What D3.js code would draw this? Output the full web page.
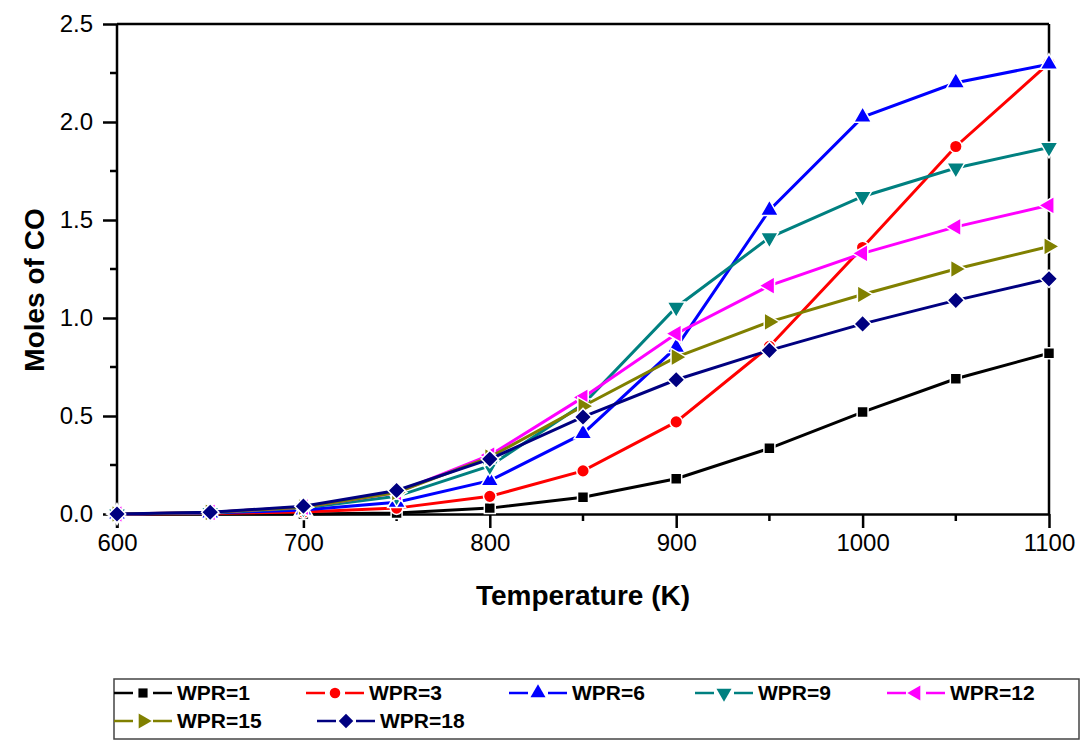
<!DOCTYPE html>
<html>
<head>
<meta charset="utf-8">
<script src="https://cdn.jsdelivr.net/npm/d3@7"></script>
<style>
  body { margin: 0; background: #fff; }
  svg { font-family: "Liberation Sans", Arial, sans-serif; }
</style>
</head>
<body>
<div id="chart"></div>
<script>
// temperatures (K)
const temps = [600, 650, 700, 750, 800, 850, 900, 950, 1000, 1050, 1100];

// moles of CO
const wpr1  = [0, 0, 0, 0.005, 0.03, 0.085, 0.18, 0.335, 0.52, 0.69, 0.82];
const wpr3  = [0, 0.003, 0.01, 0.03, 0.09, 0.22, 0.47, 0.855, 1.36, 1.875, 2.30];
const wpr6  = [0, 0.005, 0.02, 0.06, 0.17, 0.41, 0.85, 1.55, 2.025, 2.20, 2.295];
const wpr9  = [0, 0.007, 0.03, 0.09, 0.245, 0.56, 1.055, 1.41, 1.62, 1.765, 1.87];
const wpr12 = [0, 0.008, 0.035, 0.11, 0.30, 0.595, 0.92, 1.165, 1.33, 1.465, 1.575];
const wpr15 = [0, 0.008, 0.035, 0.11, 0.29, 0.55, 0.80, 0.98, 1.12, 1.25, 1.365];
const wpr18 = [0, 0.009, 0.04, 0.12, 0.28, 0.495, 0.685, 0.835, 0.97, 1.09, 1.20];

const seriesNames = ["WPR=1", "WPR=3", "WPR=6", "WPR=9", "WPR=12", "WPR=15", "WPR=18"];
const seriesValues = [wpr1, wpr3, wpr6, wpr9, wpr12, wpr15, wpr18];
const colors = ["#000000", "#ff0000", "#0000ff", "#008080", "#ff00ff", "#808000", "#000080"];
const shapes = ["square", "circle", "up", "down", "left", "right", "diamond"];

const xTicks = [600, 700, 800, 900, 1000, 1100];
const yTicks = [0, 0.5, 1.0, 1.5, 2.0, 2.5];

const svgWidth = 1086, svgHeight = 740;
const margin = {left: 117, top: 24, right: 37, bottom: 226};
const width = svgWidth - margin.left - margin.right;   // 932
const height = svgHeight - margin.top - margin.bottom; // 490

const svg = d3.select("#chart").append("svg")
    .attr("width", svgWidth)
    .attr("height", svgHeight);

const g = svg.append("g")
    .attr("transform", "translate(" + margin.left + "," + margin.top + ")");

const xscale = d3.scaleLinear().domain([600, 1100]).range([0, width]);
const yscale = d3.scaleLinear().domain([0, 2.5]).range([height, 0]);

// frame top and right
g.append("line").attr("x1", 0).attr("x2", width).attr("y1", 0).attr("y2", 0)
    .attr("stroke", "#000").attr("stroke-width", 2.5);
g.append("line").attr("x1", width).attr("x2", width).attr("y1", 0).attr("y2", height)
    .attr("stroke", "#000").attr("stroke-width", 2.5);

// minor ticks
const xMinor = d3.range(650, 1100, 100);
const yMinor = d3.range(0.25, 2.5, 0.5);

g.selectAll(".xminor").data(xMinor).enter().append("line")
    .attr("x1", d => xscale(d)).attr("x2", d => xscale(d))
    .attr("y1", height).attr("y2", height + 7)
    .attr("stroke", "#000").attr("stroke-width", 2.5);
g.selectAll(".yminor").data(yMinor).enter().append("line")
    .attr("x1", -7).attr("x2", 0)
    .attr("y1", d => yscale(d)).attr("y2", d => yscale(d))
    .attr("stroke", "#000").attr("stroke-width", 2.5);

// axes
const xAxis = g.append("g")
    .attr("transform", "translate(0," + height + ")")
    .call(d3.axisBottom(xscale).tickValues(xTicks).tickSize(14).tickPadding(6)
        .tickFormat(d3.format("d")).tickSizeOuter(0));
const yAxis = g.append("g")
    .call(d3.axisLeft(yscale).tickValues(yTicks).tickSize(14).tickPadding(10)
        .tickFormat(d3.format(".1f")).tickSizeOuter(0));

[xAxis, yAxis].forEach(a => {
    a.select(".domain").attr("stroke", "#000").attr("stroke-width", 2.5);
    a.selectAll(".tick line").attr("stroke", "#000").attr("stroke-width", 2.5);
    a.selectAll(".tick text").attr("fill", "#000")
        .style("font-size", "24px")
        .style("font-family", "'Liberation Sans', Arial, sans-serif");
});
// y axis domain should extend down to cover tick at 0
yAxis.select(".domain").attr("d", "M0," + (height + 14) + "V0");

// axis titles
svg.append("text")
    .attr("x", 583).attr("y", 605)
    .attr("text-anchor", "middle")
    .style("font-size", "28px").style("font-weight", "bold")
    .text("Temperature (K)");

svg.append("text")
    .attr("transform", "translate(44,290) rotate(-90)")
    .attr("text-anchor", "middle")
    .style("font-size", "28px").style("font-weight", "bold")
    .text("Moles of CO");

function symbolPath(shape, size) {
    let type = d3.symbolTriangle;
    if (shape === "square" || shape === "diamond") type = d3.symbolSquare;
    if (shape === "circle") type = d3.symbolCircle;
    return d3.symbol().type(type).size(size)();
}
function symbolRotate(shape) {
    if (shape === "down") return 180;
    if (shape === "left") return -90;
    if (shape === "right") return 90;
    if (shape === "diamond") return 45;
    return 0;
}
function symbolSize(shape) {
    if (shape === "square") return 120;
    if (shape === "circle") return 125;
    if (shape === "diamond") return 150;
    return 140;
}

const line = d3.line()
    .x(d => xscale(d.x))
    .y(d => yscale(d.y));

seriesValues.forEach((vals, i) => {
    const pts = temps.map((t, j) => ({x: t, y: vals[j]}));
    g.append("path")
        .datum(pts)
        .attr("d", line)
        .attr("fill", "none")
        .attr("stroke", colors[i])
        .attr("stroke-width", 3);

    g.selectAll(".m" + i).data(pts).enter().append("path")
        .attr("d", symbolPath(shapes[i], symbolSize(shapes[i])))
        .attr("transform", d => "translate(" + xscale(d.x) + "," + yscale(d.y) + ") rotate(" + symbolRotate(shapes[i]) + ")")
        .attr("fill", colors[i])
        .attr("stroke", "#fff")
        .attr("stroke-width", 1.5);
});

// legend
svg.append("rect")
    .attr("x", 114).attr("y", 679).attr("width", 965).attr("height", 60)
    .attr("fill", "none").attr("stroke", "#444").attr("stroke-width", 1.5);

const legendPos = [[114, 693], [306, 693], [509, 693], [695, 693], [887, 693], [114, 721], [317, 721]];

seriesNames.forEach((name, i) => {
    const lg = svg.append("g")
        .attr("transform", "translate(" + legendPos[i][0] + "," + legendPos[i][1] + ")");
    lg.append("line").attr("x1", 0).attr("x2", 19).attr("y1", 0).attr("y2", 0)
        .attr("stroke", colors[i]).attr("stroke-width", 2.5);
    lg.append("line").attr("x1", 39).attr("x2", 58).attr("y1", 0).attr("y2", 0)
        .attr("stroke", colors[i]).attr("stroke-width", 2.5);
    lg.append("path")
        .attr("d", symbolPath(shapes[i], symbolSize(shapes[i]) * 0.7))
        .attr("transform", "translate(29,0) rotate(" + symbolRotate(shapes[i]) + ")")
        .attr("fill", colors[i]);
    lg.append("text")
        .attr("x", 63).attr("y", 7)
        .style("font-size", "21px").style("font-weight", "bold")
        .text(name);
});
</script>
</body>
</html>
